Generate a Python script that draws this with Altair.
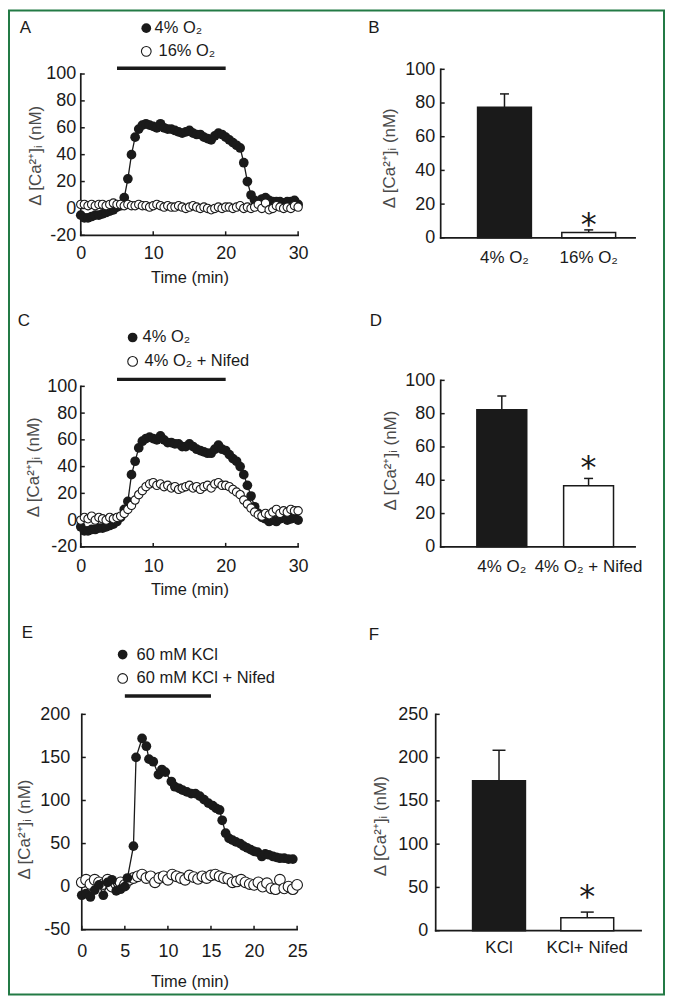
import altair as alt
import pandas as pd

FONT = "Liberation Sans"
STAR_FONT = "DejaVu Sans"
INK = "#1a1a1a"
GRAY = "#4a4a4a"
GREEN = "#237a45"
YTITLE = "Δ [Ca²⁺]ᵢ (nM)"
XTITLE = "Time (min)"
LABEL_SIZE = 18

# ---------------- Panel A ----------------
a_time = [i * 0.5 for i in range(61)]
a_low_o2 = [-5, -7, -7, -6, -5, -5, -4, -3, -2, -1,
            1, 2, 8, 22, 40, 53, 59, 62, 63, 62,
            61, 60, 63, 60, 59, 59, 58, 57, 56, 57,
            58, 56, 55, 55, 53, 52, 51, 54, 56, 55,
            53, 51, 49, 47, 45, 34, 20, 10, 6, 5,
            7, 8, 6, 5, 5, 5, 4, 5, 5, 6,
            3]
a_high_o2 = [3, 3, 2, 3, 2, 3, 3, 2, 3, 4,
             3, 3, 2, 3, 2, 2, 3, 2, 2, 1,
             2, 3, 2, 1, 2, 1, 1, 2, 1, 0,
             1, 2, 1, 0, 1, 0, -1, 0, 1, 0,
             1, 1, 0, 1, 2, 0, 1, 0, 1, 3,
             0, 4, -1, 0, 2, 1, 0, 1, 0, 2,
             1]
a_legend = ["4% O₂", "16% O₂"]

# ---------------- Panel C ----------------
c_time = [i * 0.5 for i in range(61)]
c_low_o2 = [-5, -8, -8, -7, -7, -6, -6, -5, -4, -3,
            -1, 2, 8, 14, 34, 44, 54, 59, 61, 62,
            61, 60, 63, 60, 58, 58, 57, 57, 55, 55,
            57, 55, 53, 52, 51, 50, 50, 53, 56, 53,
            52, 49, 46, 44, 40, 34, 26, 18, 10, 5,
            2, 1, -1, 0, -1, 1, 2, 0, 1, 2,
            0]
c_nifed = [0, 2, 1, 3, 0, 2, 1, 0, 2, 1,
           2, 3, 5, 8, 11, 15, 19, 22, 25, 27,
           28, 26, 27, 25, 26, 24, 25, 23, 24, 25,
           26, 24, 25, 23, 25, 26, 24, 27, 28, 26,
           26, 25, 23, 21, 19, 15, 12, 9, 6, 4,
           3, 5, 4, 6, 8, 5, 7, 6, 8, 7,
           7]
c_legend = ["4% O₂", "4% O₂ + Nifed"]

# ---------------- Panel E ----------------
e_kcl_time = [0, 0.5, 1, 1.5, 2, 2.5, 3, 3.5, 4, 4.5, 5, 5.3, 6.0, 6.3, 7.0, 7.5,
              7.8, 8.3, 8.9, 9.3, 9.7, 10.4, 10.8, 11.3, 11.7, 12.2, 12.7, 13.2,
              13.7, 14.2, 14.7, 15.2, 15.6, 16.0, 16.3, 16.7, 17.1, 17.5, 17.9,
              18.4, 18.8, 19.2, 19.6, 20.0, 20.4, 20.9, 21.3, 21.7, 22.2, 22.6,
              23.0, 23.5, 24.0, 24.5]
e_kcl = [-10, -8, -12, -4, 2, -10, 5, 8, -5, -3, 0, 10, 47, 150, 172, 163,
         148, 145, 130, 136, 133, 122, 116, 114, 112, 110, 108, 108,
         105, 101, 97, 94, 91, 89, 77, 62, 56, 54, 52,
         50, 47, 45, 43, 41, 40, 35, 38, 37, 35, 34,
         33, 33, 32, 32]
e_nifed_time = [i * 0.5 for i in range(51)]
e_nifed = [5, 8, 3, 8, 5, 3, 8, 0, 3, 5,
           2, 8, 10, 12, 14, 10, 12, 5, 10, 12,
           8, 14, 12, 10, 8, 13, 11, 9, 12, 10,
           13, 14, 12, 10, 9, 5, 6, 8, 5, 3,
           2, 5, 0, 4, -2, -3, 8, -2, 0, -3,
           2]
e_legend = ["60 mM KCl", "60 mM KCl + Nifed"]

# ---------------- Bar panels ----------------
b_cats = ["4% O₂", "16% O₂"]
b_mean = [77.5, 3.1]
b_top = [85.4, 4.7]
b_star = 12.4

d_cats = ["4% O₂", "4% O₂ + Nifed"]
d_mean = [82.4, 36.7]
d_top = [90.6, 41.1]
d_star = 52

f_cats = ["KCl", "KCl+ Nifed"]
f_mean = [173.2, 15.0]
f_top = [208.5, 21.5]
f_star = 48.4

bar_fills = [INK, "white"]


def one(**kw):
    return pd.DataFrame({k: [v] for k, v in kw.items()})


def text_layer(label, x, y, size=16.5, align="left", color=INK):
    return alt.Chart(one(label=label)).mark_text(
        align=align, baseline="middle", font=FONT, fontSize=size, color=color
    ).encode(x=alt.value(x), y=alt.value(y), text="label:N")


def y_axis(values, pad, tx, ty):
    return alt.Axis(title=YTITLE, values=values, domain=False, ticks=False, grid=False,
                    labelPadding=pad, labelFlush=False, labelOverlap=False,
                    labelExpr="toString(datum.value)",
                    labelFont=FONT, labelFontSize=LABEL_SIZE, labelColor=INK,
                    titleFont=FONT, titleFontSize=17, titleColor=GRAY,
                    titleFontWeight="normal",
                    titleX=tx, titleY=ty, titleAngle=270, titleBaseline="middle",
                    titleAlign="center")


def line_panel(t_f, v_f, t_o, v_o, x_dom, y_dom, w, h, x_ticks, y_ticks, x_ax, y_ax,
               stim, legend, leg_pos, letter, letter_pos, ypad, xpad, ytx, yty, xtx, xty,
               open_size, open_on_top, border=None):
    xs = alt.Scale(domain=x_dom, nice=False, zero=False)
    ys = alt.Scale(domain=y_dom, nice=False, zero=False)
    xaxis = alt.Axis(title=XTITLE, values=x_ticks, domain=False, ticks=False, grid=False,
                     labelPadding=xpad, labelFlush=False, labelOverlap=False,
                     labelExpr="toString(datum.value)",
                     labelFont=FONT, labelFontSize=LABEL_SIZE, labelColor=INK,
                     titleFont=FONT, titleFontSize=16.5, titleColor=INK,
                     titleFontWeight="normal",
                     titleX=xtx, titleY=xty, titleBaseline="middle", titleAlign="center")
    yaxis = y_axis(y_ticks, ypad, ytx, yty)

    def X(f):
        return alt.X(f, type="quantitative", scale=xs, axis=xaxis)

    def Y(f):
        return alt.Y(f, type="quantitative", scale=ys, axis=yaxis)

    df_f = pd.DataFrame({"t": t_f, "v": v_f})
    df_o = pd.DataFrame({"t": t_o, "v": v_o})
    axdf = one(x0=x_ax[0], x1=x_ax[1], y0=y_ax[0], y1=y_ax[1])
    layers = []
    if border is not None:
        layers.append(alt.Chart(one(k=0)).mark_rect(
            fill="white", fillOpacity=0, stroke=GREEN, strokeWidth=2
        ).encode(x=alt.value(border[0]), x2=alt.value(border[1]),
                 y=alt.value(border[2]), y2=alt.value(border[3])))
    layers.append(alt.Chart(axdf).mark_rule(color=INK, strokeWidth=1.7, strokeCap="square")
                  .encode(x=X("x0"), y=Y("y0"), y2=alt.Y2("y1")))
    layers.append(alt.Chart(axdf).mark_rule(color=INK, strokeWidth=1.7, strokeCap="square")
                  .encode(x=X("x0"), x2=alt.X2("x1"), y=Y("y0")))
    layers.append(alt.Chart(pd.DataFrame({"v": y_ticks, "x0": x_ax[0]})).mark_tick(
        orient="horizontal", size=4, thickness=1.5, xOffset=2, color=INK, opacity=1
    ).encode(x=X("x0"), y=Y("v")))
    layers.append(alt.Chart(pd.DataFrame({"v": x_ticks, "y0": y_ax[0]})).mark_tick(
        orient="vertical", size=4, thickness=1.5, yOffset=-2, color=INK, opacity=1
    ).encode(x=X("v"), y=Y("y0")))
    layers.append(alt.Chart(one(s=stim[0], e=stim[1])).mark_rule(
        color=INK, strokeWidth=3.5).encode(x=X("s"), x2=alt.X2("e"), y=alt.value(stim[2])))

    filled = [
        alt.Chart(df_f).mark_line(color=INK, strokeWidth=1.3).encode(x=X("t"), y=Y("v")),
        alt.Chart(df_f).mark_circle(color=INK, size=95, opacity=1).encode(x=X("t"), y=Y("v")),
    ]
    opened = [alt.Chart(df_o).mark_circle(fill="white", stroke=INK, strokeWidth=1.1,
                                          size=open_size, opacity=1)
              .encode(x=X("t"), y=Y("v"))]
    layers += (filled + opened) if open_on_top else (opened + filled)

    # legend
    (sx, sy1, tx1), (_, sy2, tx2) = leg_pos
    layers.append(alt.Chart(one(k=0)).mark_circle(color=INK, size=95, opacity=1)
                  .encode(x=alt.value(sx), y=alt.value(sy1)))
    layers.append(alt.Chart(one(k=0)).mark_circle(fill="white", stroke=INK, strokeWidth=1.1,
                                                  size=95, opacity=1)
                  .encode(x=alt.value(sx), y=alt.value(sy2)))
    layers.append(text_layer(legend[0], tx1, sy1))
    layers.append(text_layer(legend[1], tx2, sy2))
    layers.append(text_layer(letter, letter_pos[0], letter_pos[1], size=17, align="center"))
    return alt.layer(*layers).properties(width=w, height=h)


def bar_panel(cats, mean, top, star, y_dom, y_ticks, h, band, axis_x, axis_end, cap,
              letter, letter_pos, ypad, xpad, ytx, yty):
    xs = alt.Scale(type="band", domain=cats, paddingInner=band[0], paddingOuter=band[1],
                   align=band[2])
    ys = alt.Scale(domain=y_dom, nice=False, zero=False)
    xaxis = alt.Axis(title="", domain=False, ticks=False, grid=False, labelAngle=0,
                     labelPadding=xpad, labelOverlap=False,
                     labelFont=FONT, labelFontSize=17, labelColor=INK)
    yaxis = y_axis(y_ticks, ypad, ytx, yty)

    def X(f):
        return alt.X(f, type="nominal", scale=xs, axis=xaxis, sort=cats)

    def Y(f):
        return alt.Y(f, type="quantitative", scale=ys, axis=yaxis)

    df = pd.DataFrame({"cat": cats, "mean": mean, "top": top, "fill": bar_fills})
    sdf = pd.DataFrame({"cat": [cats[1]], "star": [star], "s": ["*"]})
    axdf = one(y0=0, y1=y_ticks[-1])
    layers = [
        alt.Chart(axdf).mark_rule(color=INK, strokeWidth=1.7, strokeCap="square")
        .encode(x=alt.value(axis_x), y=Y("y0"), y2=alt.Y2("y1")),
        alt.Chart(axdf).mark_rule(color=INK, strokeWidth=1.7, strokeCap="square")
        .encode(x=alt.value(axis_x), x2=alt.value(axis_end), y=Y("y0")),
        alt.Chart(pd.DataFrame({"v": y_ticks})).mark_tick(
            orient="horizontal", size=4, thickness=1.5, color=INK, opacity=1
        ).encode(x=alt.value(axis_x + 2), y=Y("v")),
        alt.Chart(df).mark_rule(color=INK, strokeWidth=1.5).encode(
            x=X("cat"), y=Y("mean"), y2=alt.Y2("top")),
        alt.Chart(df).mark_tick(orient="horizontal", size=cap, thickness=1.5, color=INK,
                                opacity=1).encode(x=X("cat"), y=Y("top")),
        alt.Chart(df).mark_bar(stroke=INK, strokeWidth=1.5).encode(
            x=X("cat"), y=Y("mean"), fill=alt.Fill("fill:N", scale=None)),
        alt.Chart(sdf).mark_text(font=STAR_FONT, fontSize=32, color=INK, baseline="middle",
                                 dy=8).encode(x=X("cat"), y=Y("star"), text="s:N"),
        text_layer(letter, letter_pos[0], letter_pos[1], size=17, align="center"),
    ]
    return alt.layer(*layers).properties(width=206, height=h)


A = line_panel(a_time, a_low_o2, a_time, a_high_o2, [0, 30], [-21.85, 103.49], 218, 169,
               [0, 10, 20, 30], [-20, 0, 20, 40, 60, 80, 100], (0, 30), (-20, 100),
               (5, 20, -1), a_legend, [(65.7, -41.3, 74), (65.7, -18, 78)],
               "A", (-55.5, -41.5), 5, 7, -45, 86.3, 109, 39.7, 70, True,
               border=(-72, 585, -59, 928))
B = bar_panel(b_cats, b_mean, b_top, b_star, [0, 100], [0, 20, 40, 60, 80, 100], 169,
              (0.361, 0.3996, 0.622), 5, 200, 9, "B", (-62, -41.3), 1, 12, -46, 88.7)
C = line_panel(c_time, c_low_o2, c_time, c_nifed, [0, 30], [-20, 104.47], 218, 167,
               [0, 10, 20, 30], [-20, 0, 20, 40, 60, 80, 100], (0, 30), (-20, 100),
               (5, 20, -1), c_legend, [(52, -43, 62), (52, -19, 64)],
               "C", (-57, -60), 4, 11, -47, 86.7, 109, 43, 70, True)
D = bar_panel(d_cats, d_mean, d_top, d_star, [0, 100], [0, 20, 40, 60, 80, 100], 167,
              (0.425, 0.396, 0.599), 5, 200, 9, "D", (-60, -60), 1, 12, -45, 80)
E = line_panel(e_kcl_time, e_kcl, e_nifed_time, e_nifed, [-0.1157, 25.1157],
               [-51.16, 228.94], 218, 242, [0, 5, 10, 15, 20, 25],
               [-50, 0, 50, 100, 150, 200], (0, 25), (-50, 200),
               (5, 15, 6.7), e_legend, [(42, -35, 56), (42, -11, 56)],
               "E", (-53.5, -57), 11, 12, -56, 140, 109, 51, 115, False)
F = bar_panel(f_cats, f_mean, f_top, f_star, [0, 278.8], [0, 50, 100, 150, 200, 250], 242,
              (0.401, 0.364, 0.574), 0, 206, 13, "F", (-62, -55), 8, 9, -55, 136.7)

chart = alt.concat(
    A, B, C, D, E, F, columns=2,
    spacing={"row": 143, "column": 138}, bounds="flush", align="each"
).resolve_scale(x="independent", y="independent").properties(
    padding=0
).configure_view(strokeWidth=0)

chart.save("out.html", embed_options={"renderer": "svg", "actions": False})
